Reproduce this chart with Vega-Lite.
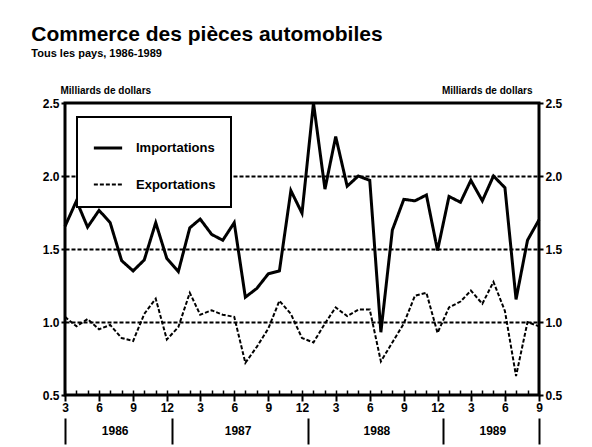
{
  "$schema": "https://vega.github.io/schema/vega-lite/v6.json",
  "width": 474,
  "height": 292,
  "autosize": {"type": "none"},
  "padding": {"left": 65, "top": 103, "right": 53, "bottom": 52},
  "background": "white",
  "title": {
    "text": "Commerce des pièces automobiles",
    "subtitle": "Tous les pays, 1986-1989",
    "anchor": "start",
    "dx": -11,
    "offset": 26,
    "font": "Liberation Sans",
    "fontSize": 21,
    "fontWeight": "bold",
    "color": "black",
    "subtitleFont": "Liberation Sans",
    "subtitleFontSize": 11,
    "subtitleFontWeight": "bold",
    "subtitleColor": "black",
    "subtitlePadding": 3
  },
  "config": {
    "view": {"stroke": "black", "strokeWidth": 3},
    "axis": {
      "labelFont": "Liberation Sans",
      "labelFontWeight": "bold",
      "labelColor": "black",
      "labelFontSize": 12,
      "titleFont": "Liberation Sans",
      "titleFontWeight": "bold",
      "titleColor": "black",
      "tickColor": "black",
      "domain": false,
      "grid": false
    }
  },
  "datasets": {
    "trade": [
      {"date": "1986-03-01", "series": "Importations", "value": 1.655},
      {"date": "1986-04-01", "series": "Importations", "value": 1.83},
      {"date": "1986-05-01", "series": "Importations", "value": 1.65},
      {"date": "1986-06-01", "series": "Importations", "value": 1.765},
      {"date": "1986-07-01", "series": "Importations", "value": 1.68},
      {"date": "1986-08-01", "series": "Importations", "value": 1.42},
      {"date": "1986-09-01", "series": "Importations", "value": 1.35},
      {"date": "1986-10-01", "series": "Importations", "value": 1.425},
      {"date": "1986-11-01", "series": "Importations", "value": 1.68},
      {"date": "1986-12-01", "series": "Importations", "value": 1.435},
      {"date": "1987-01-01", "series": "Importations", "value": 1.345},
      {"date": "1987-02-01", "series": "Importations", "value": 1.645},
      {"date": "1987-03-01", "series": "Importations", "value": 1.705},
      {"date": "1987-04-01", "series": "Importations", "value": 1.6},
      {"date": "1987-05-01", "series": "Importations", "value": 1.56},
      {"date": "1987-06-01", "series": "Importations", "value": 1.68},
      {"date": "1987-07-01", "series": "Importations", "value": 1.17},
      {"date": "1987-08-01", "series": "Importations", "value": 1.23},
      {"date": "1987-09-01", "series": "Importations", "value": 1.33},
      {"date": "1987-10-01", "series": "Importations", "value": 1.35},
      {"date": "1987-11-01", "series": "Importations", "value": 1.9},
      {"date": "1987-12-01", "series": "Importations", "value": 1.745},
      {"date": "1988-01-01", "series": "Importations", "value": 2.5},
      {"date": "1988-02-01", "series": "Importations", "value": 1.91},
      {"date": "1988-03-01", "series": "Importations", "value": 2.27},
      {"date": "1988-04-01", "series": "Importations", "value": 1.93},
      {"date": "1988-05-01", "series": "Importations", "value": 2.0},
      {"date": "1988-06-01", "series": "Importations", "value": 1.97},
      {"date": "1988-07-01", "series": "Importations", "value": 0.93},
      {"date": "1988-08-01", "series": "Importations", "value": 1.63},
      {"date": "1988-09-01", "series": "Importations", "value": 1.84},
      {"date": "1988-10-01", "series": "Importations", "value": 1.83},
      {"date": "1988-11-01", "series": "Importations", "value": 1.87},
      {"date": "1988-12-01", "series": "Importations", "value": 1.49},
      {"date": "1989-01-01", "series": "Importations", "value": 1.86},
      {"date": "1989-02-01", "series": "Importations", "value": 1.82},
      {"date": "1989-03-01", "series": "Importations", "value": 1.97},
      {"date": "1989-04-01", "series": "Importations", "value": 1.83},
      {"date": "1989-05-01", "series": "Importations", "value": 2.0},
      {"date": "1989-06-01", "series": "Importations", "value": 1.92},
      {"date": "1989-07-01", "series": "Importations", "value": 1.155},
      {"date": "1989-08-01", "series": "Importations", "value": 1.56},
      {"date": "1989-09-01", "series": "Importations", "value": 1.7},
      {"date": "1986-03-01", "series": "Exportations", "value": 1.035},
      {"date": "1986-04-01", "series": "Exportations", "value": 0.97},
      {"date": "1986-05-01", "series": "Exportations", "value": 1.02},
      {"date": "1986-06-01", "series": "Exportations", "value": 0.95},
      {"date": "1986-07-01", "series": "Exportations", "value": 0.98},
      {"date": "1986-08-01", "series": "Exportations", "value": 0.89},
      {"date": "1986-09-01", "series": "Exportations", "value": 0.87},
      {"date": "1986-10-01", "series": "Exportations", "value": 1.055},
      {"date": "1986-11-01", "series": "Exportations", "value": 1.16},
      {"date": "1986-12-01", "series": "Exportations", "value": 0.88},
      {"date": "1987-01-01", "series": "Exportations", "value": 0.965},
      {"date": "1987-02-01", "series": "Exportations", "value": 1.2},
      {"date": "1987-03-01", "series": "Exportations", "value": 1.05},
      {"date": "1987-04-01", "series": "Exportations", "value": 1.08},
      {"date": "1987-05-01", "series": "Exportations", "value": 1.05},
      {"date": "1987-06-01", "series": "Exportations", "value": 1.035},
      {"date": "1987-07-01", "series": "Exportations", "value": 0.72},
      {"date": "1987-08-01", "series": "Exportations", "value": 0.83},
      {"date": "1987-09-01", "series": "Exportations", "value": 0.955},
      {"date": "1987-10-01", "series": "Exportations", "value": 1.145},
      {"date": "1987-11-01", "series": "Exportations", "value": 1.055},
      {"date": "1987-12-01", "series": "Exportations", "value": 0.89},
      {"date": "1988-01-01", "series": "Exportations", "value": 0.86},
      {"date": "1988-02-01", "series": "Exportations", "value": 0.99},
      {"date": "1988-03-01", "series": "Exportations", "value": 1.1},
      {"date": "1988-04-01", "series": "Exportations", "value": 1.04},
      {"date": "1988-05-01", "series": "Exportations", "value": 1.085},
      {"date": "1988-06-01", "series": "Exportations", "value": 1.085},
      {"date": "1988-07-01", "series": "Exportations", "value": 0.73},
      {"date": "1988-08-01", "series": "Exportations", "value": 0.86},
      {"date": "1988-09-01", "series": "Exportations", "value": 0.99},
      {"date": "1988-10-01", "series": "Exportations", "value": 1.18},
      {"date": "1988-11-01", "series": "Exportations", "value": 1.2},
      {"date": "1988-12-01", "series": "Exportations", "value": 0.925},
      {"date": "1989-01-01", "series": "Exportations", "value": 1.1},
      {"date": "1989-02-01", "series": "Exportations", "value": 1.14},
      {"date": "1989-03-01", "series": "Exportations", "value": 1.215},
      {"date": "1989-04-01", "series": "Exportations", "value": 1.125},
      {"date": "1989-05-01", "series": "Exportations", "value": 1.275},
      {"date": "1989-06-01", "series": "Exportations", "value": 1.075},
      {"date": "1989-07-01", "series": "Exportations", "value": 0.63},
      {"date": "1989-08-01", "series": "Exportations", "value": 1.0},
      {"date": "1989-09-01", "series": "Exportations", "value": 0.97}
    ]
  },
  "data": {"name": "trade"},
  "layer": [
    {
      "mark": {"type": "line", "color": "black"},
      "encoding": {
        "x": {
          "field": "date", "type": "temporal",
          "scale": {"type": "utc", "domain": [{"year": 1986, "month": 3, "date": 1, "utc": true}, {"year": 1989, "month": 9, "date": 1, "utc": true}]},
          "axis": {"orient": "bottom", "title": null, "tickCount": {"interval": "month", "step": 1}, "tickSize": -5, "tickWidth": 1.5, "labels": false}
        },
        "y": {
          "field": "value", "type": "quantitative",
          "scale": {"domain": [0.5, 2.5], "nice": false, "zero": false},
          "axis": {
            "orient": "left",
            "values": [0.5, 1, 1.5, 2, 2.5], "format": ".1f", "tickSize": 4, "tickWidth": 2, "labelPadding": 2,
            "grid": true, "gridDash": [4, 2], "gridColor": "black", "gridWidth": 2,
            "gridOpacity": {"condition": {"test": "datum.value > 0.6 && datum.value < 2.4", "value": 1}, "value": 0},
            "title": "Milliards de dollars", "titleAngle": 0, "titleAlign": "left", "titleBaseline": "bottom",
            "titleX": -5, "titleY": -8, "titleFontSize": 10
          }
        },
        "strokeDash": {
          "field": "series", "type": "nominal",
          "scale": {"domain": ["Importations", "Exportations"], "range": [[1, 0], [4, 2]]},
          "legend": {
            "title": null, "orient": "none", "legendX": 12, "legendY": 14,
            "fillColor": "white", "strokeColor": "black", "padding": 15,
            "symbolType": "stroke", "symbolSize": 800, "symbolStrokeWidth": 2.5, "symbolStrokeColor": "black",
            "labelFont": "Liberation Sans", "labelFontSize": 13, "labelFontWeight": "bold", "labelColor": "black",
            "labelOffset": 12, "rowPadding": 14,
            "encode": {"legend": {"update": {"strokeWidth": {"value": 2}}}}
          }
        },
        "strokeWidth": {
          "field": "series", "type": "nominal",
          "scale": {"domain": ["Importations", "Exportations"], "range": [3, 2]},
          "legend": null
        }
      }
    },
    {
      "mark": {"type": "line", "strokeOpacity": 0},
      "encoding": {
        "x": {
          "field": "date", "type": "temporal",
          "axis": {
            "orient": "bottom",
            "title": null, "tickCount": {"interval": "month", "step": 1},
            "tickSize": {"condition": {"test": "utcmonth(datum.value) % 3 == 2", "value": 6}, "value": 0},
            "tickWidth": 2,
            "labelExpr": "utcmonth(datum.value) % 3 == 2 ? utcFormat(datum.value, '%-m') : ''",
            "labelPadding": 1, "labelFlush": false, "labelOverlap": false
          }
        },
        "y": {
          "field": "value", "type": "quantitative",
          "axis": {
            "orient": "right", "values": [0.5, 1, 1.5, 2, 2.5], "format": ".1f", "tickSize": 4, "tickWidth": 2, "labelPadding": 2,
            "title": "Milliards de dollars", "titleAngle": 0, "titleAlign": "right", "titleBaseline": "bottom",
            "titleX": -7, "titleY": -8, "titleFontSize": 10
          }
        },
        "detail": {"field": "series"}
      }
    },
    {
      "mark": {"type": "line", "strokeOpacity": 0},
      "encoding": {
        "x": {
          "field": "date", "type": "temporal",
          "axis": {
            "orient": "bottom",
            "title": null, "ticks": false, "labelPadding": 30, "labelFlush": false, "labelOverlap": false,
            "values": [
              {"year": 1986, "month": 7, "date": 13, "utc": true},
              {"year": 1987, "month": 6, "date": 10, "utc": true},
              {"year": 1988, "month": 6, "date": 19, "utc": true},
              {"year": 1989, "month": 4, "date": 28, "utc": true}
            ],
            "labelExpr": "utcFormat(datum.value, '%Y')"
          }
        },
        "y": {"field": "value", "type": "quantitative", "axis": null},
        "detail": {"field": "series"}
      }
    },
    {
      "mark": {"type": "line", "strokeOpacity": 0},
      "encoding": {
        "x": {
          "field": "date", "type": "temporal",
          "axis": {
            "orient": "bottom",
            "title": null, "labels": false, "offset": 23, "tickSize": 26, "tickWidth": 2,
            "values": [
              {"year": 1986, "month": 3, "date": 1, "utc": true},
              {"year": 1986, "month": 12, "date": 16, "utc": true},
              {"year": 1987, "month": 12, "date": 16, "utc": true},
              {"year": 1988, "month": 12, "date": 16, "utc": true},
              {"year": 1989, "month": 9, "date": 1, "utc": true}
            ]
          }
        },
        "y": {"field": "value", "type": "quantitative", "axis": null},
        "detail": {"field": "series"}
      }
    }
  ],
  "resolve": {"axis": {"x": "independent", "y": "independent"}}
}
